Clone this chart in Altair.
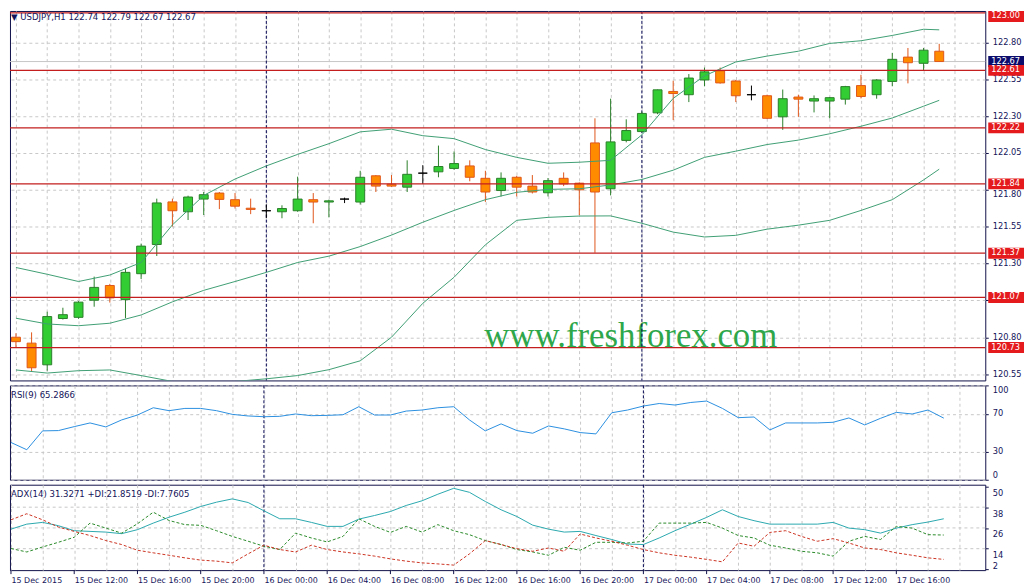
import altair as alt
import numpy as np
import pandas as pd

# ---------------- data ----------------
hours = list(range(60))  # hour index, 0 = 15 Dec 08:00
opens = [120.80, 120.76, 120.613, 120.927, 120.935, 121.051, 121.151, 121.055, 121.231, 121.429,
         121.718, 121.651, 121.737, 121.778, 121.733, 121.675, 121.658, 121.651, 121.658, 121.733,
         121.717, 121.737, 121.717, 121.895, 121.838, 121.818, 121.913, 121.922, 121.945, 121.962,
         121.878, 121.795, 121.885, 121.825, 121.78, 121.878, 121.845, 122.118, 121.807, 122.135,
         122.195, 122.322, 122.467, 122.445, 122.545, 122.607, 122.538, 122.445, 122.438, 122.295,
         122.429, 122.402, 122.402, 122.415, 122.507, 122.445, 122.535, 122.70, 122.658, 122.74]
highs = [120.827, 120.833, 120.973, 121.0, 121.045, 121.211, 121.162, 121.267, 121.435, 121.74,
         121.74, 121.76, 121.785, 121.785, 121.778, 121.74, 121.70, 121.695, 121.889, 121.778,
         121.733, 121.747, 121.929, 121.90, 121.90, 122.0, 121.967, 122.10, 122.06, 122.0,
         121.929, 121.918, 121.895, 121.90, 121.88, 121.918, 121.85, 122.285, 122.418, 122.278,
         122.33, 122.48, 122.54, 122.585, 122.629, 122.629, 122.545, 122.507, 122.445, 122.48,
         122.445, 122.44, 122.43, 122.505, 122.58, 122.55, 122.729, 122.762, 122.762, 122.79]
lows = [120.727, 120.567, 120.573, 120.92, 120.925, 121.007, 121.035, 120.929, 121.195, 121.351,
        121.551, 121.595, 121.629, 121.669, 121.673, 121.635, 121.607, 121.607, 121.651, 121.573,
        121.613, 121.71, 121.70, 121.785, 121.82, 121.785, 121.84, 121.885, 121.935, 121.858,
        121.718, 121.755, 121.755, 121.775, 121.755, 121.825, 121.629, 121.373, 121.762, 122.122,
        122.19, 122.313, 122.273, 122.395, 122.502, 122.52, 122.395, 122.407, 122.28, 122.207,
        122.295, 122.325, 122.285, 122.378, 122.42, 122.418, 122.502, 122.522, 122.607, 122.67]
closes = [120.77, 120.593, 120.94, 120.953, 121.038, 121.138, 121.067, 121.24, 121.418, 121.711,
          121.658, 121.751, 121.767, 121.735, 121.689, 121.667, 121.658, 121.673, 121.737, 121.717,
          121.725, 121.737, 121.885, 121.825, 121.825, 121.905, 121.913, 121.958, 121.978, 121.885,
          121.785, 121.878, 121.818, 121.785, 121.862, 121.84, 121.80, 121.785, 122.125, 122.202,
          122.318, 122.478, 122.453, 122.558, 122.60, 122.525, 122.438, 122.445, 122.285, 122.418,
          122.415, 122.418, 122.425, 122.50, 122.433, 122.545, 122.685, 122.662, 122.747, 122.67]

band_hours = list(range(0, 60, 2)) + [59]
bb_upper = [121.273, 121.227, 121.178, 121.222, 121.307, 121.562, 121.762, 121.873, 121.962, 122.04,
            122.113, 122.193, 122.211, 122.167, 122.147, 122.073, 122.02, 121.98, 121.987, 122.0,
            122.173, 122.42, 122.573, 122.667, 122.707, 122.74, 122.793, 122.811, 122.847, 122.889,
            122.885]
bb_middle = [120.929, 120.89, 120.878, 120.895, 120.951, 121.04, 121.118, 121.178, 121.24, 121.307,
             121.35, 121.415, 121.493, 121.58, 121.66, 121.733, 121.783, 121.803, 121.807, 121.833,
             121.87, 121.933, 122.02, 122.062, 122.107, 122.137, 122.18, 122.231, 122.287, 122.367,
             122.407]
bb_lower = [120.578, 120.557, 120.573, 120.578, 120.54, 120.50, 120.48, 120.50, 120.518, 120.54,
            120.58, 120.64, 120.80, 121.03, 121.207, 121.427, 121.593, 121.613, 121.622, 121.623,
            121.573, 121.513, 121.48, 121.491, 121.533, 121.56, 121.593, 121.66, 121.733, 121.867,
            121.94]

rsi = [39.5, 31.8, 51.8, 52.1, 56.3, 60.2, 56.0, 63.4, 68.6, 76.3,
       73.2, 75.6, 75.6, 73.2, 69.3, 67.6, 66.8, 67.2, 69.7, 67.9,
       68.2, 68.9, 77.4, 68.6, 68.6, 72.8, 73.9, 76.3, 77.4, 63.4,
       51.8, 59.2, 52.1, 49.3, 57.0, 53.9, 50.0, 48.6, 71.0, 73.9,
       78.1, 80.8, 79.2, 81.9, 83.4, 75.6, 65.8, 66.5, 52.8, 60.2,
       60.2, 60.2, 60.9, 65.5, 58.1, 65.1, 71.4, 69.7, 73.9, 65.3]
adx = [25.3, 28.2, 29.2, 27.3, 24.4, 24.0, 23.6, 22.7, 25.0, 28.8,
       32.2, 35.1, 38.4, 40.9, 42.8, 40.7, 35.9, 31.3, 31.3, 29.2,
       26.9, 26.9, 31.1, 33.2, 35.5, 39.0, 41.7, 45.5, 48.9, 46.6,
       41.3, 36.5, 32.6, 27.6, 25.3, 23.6, 24.0, 21.6, 19.3, 16.7,
       16.4, 20.2, 24.4, 28.2, 32.1, 36.5, 32.6, 30.2, 28.2, 28.2,
       28.2, 28.2, 29.2, 25.9, 25.0, 23.0, 25.9, 27.9, 29.4, 31.3]
plus_di = [14.1, 12.1, 15.0, 17.7, 20.6, 28.8, 25.9, 23.0, 28.4, 35.1,
           30.3, 27.9, 27.5, 24.4, 21.1, 18.3, 15.4, 13.5, 23.0, 20.2,
           17.9, 21.1, 31.3, 26.9, 23.4, 26.9, 23.6, 27.9, 24.4, 22.1,
           18.7, 16.4, 13.5, 12.1, 10.2, 14.8, 13.1, 17.7, 17.7, 17.3,
           18.3, 28.8, 28.8, 28.8, 29.2, 25.9, 21.6, 20.2, 16.0, 14.4,
           12.5, 11.6, 9.7, 18.3, 21.1, 19.3, 26.9, 25.9, 22.1, 21.9]
minus_di = [30.7, 34.2, 30.7, 26.5, 24.0, 21.6, 18.7, 16.4, 13.1, 11.6,
            10.2, 8.7, 7.4, 6.8, 5.8, 11.0, 16.0, 13.5, 12.1, 16.0,
            13.5, 12.1, 11.0, 9.7, 8.1, 6.8, 5.8, 5.2, 4.5, 11.0,
            18.7, 16.4, 14.0, 12.5, 14.4, 12.5, 22.5, 20.2, 18.3, 16.0,
            13.5, 11.6, 10.2, 9.1, 7.8, 6.4, 17.3, 15.4, 23.4, 24.4,
            21.1, 18.3, 19.8, 17.3, 14.4, 13.5, 11.6, 10.2, 8.7, 7.8]

level_prices = [123.00, 122.61, 122.22, 121.84, 121.37, 121.07, 120.73]
current_price = 122.67
day_separators = [16, 40]
price_ticks = [120.55, 120.80, 121.05, 121.30, 121.55, 121.80, 122.05, 122.30, 122.55, 122.80]
rsi_ticks = [0, 30, 70, 100]
adx_ticks = [2, 14, 26, 38, 50]
adx_grid_levels = [14, 26, 38]
grid_hours = list(range(0, 61, 2))
x_label_hours = list(range(0, 57, 4))
x_labels = ['15 Dec 2015', '15 Dec 12:00', '15 Dec 16:00', '15 Dec 20:00', '16 Dec 00:00',
            '16 Dec 04:00', '16 Dec 08:00', '16 Dec 12:00', '16 Dec 16:00', '16 Dec 20:00',
            '17 Dec 00:00', '17 Dec 04:00', '17 Dec 08:00', '17 Dec 12:00', '17 Dec 16:00']
main_title_text = '\u25BC USDJPY,H1  122.74 122.79 122.67 122.67'
rsi_title_text = 'RSI(9) 65.2866'
adx_title_text = 'ADX(14) 31.3271 +DI:21.8519 -DI:7.7605'
watermark_text = 'www.freshforex.com'

# ---------------- layout / style ----------------
W = 982
H_MAIN, H_RSI, H_ADX = 372, 95, 86
X_DOMAIN = [-0.0625, 61.625]
PRICE_DOMAIN = [120.507, 123.013]
RSI_DOMAIN = [0, 100]
ADX_DOMAIN = [1.6, 51.0]
PX_PER_UNIT = H_MAIN / (PRICE_DOMAIN[1] - PRICE_DOMAIN[0])
LABEL_MAX = PRICE_DOMAIN[1] - 5.5 / PX_PER_UNIT

FONT = 'DejaVu Sans'
NAVY = '#10104a'
TEXT_NAVY = '#14145a'
GRID = '#c8c8c8'
BAND = '#3f9e74'
LEVEL_RED = '#c41e1e'
BOX_RED = '#e41a1c'
BOX_NAVY = '#0c0c6c'
BOX = 'M-1,-0.3056L1,-0.3056L1,0.3056L-1,0.3056Z'
BOX_SIZE = 36 * 36

x_scale = alt.Scale(domain=X_DOMAIN, nice=False, zero=False)
p_scale = alt.Scale(domain=PRICE_DOMAIN, nice=False, zero=False)
r_scale = alt.Scale(domain=RSI_DOMAIN, nice=False, zero=False)
a_scale = alt.Scale(domain=ADX_DOMAIN, nice=False, zero=False)

fill_scale = alt.Scale(domain=['up', 'down', 'doji'], range=['#32cd32', '#ff8c00', '#000000'])
stroke_scale = alt.Scale(domain=['up', 'down', 'doji'], range=['#2a7f2a', '#e0571b', '#000000'])

# price labels fully under a level box are not shown (as in the original);
# labels only partly under a box are nudged down so they stay readable
hidden_test = ' || '.join(f'abs(datum.value - {p}) < 0.03' for p in level_prices)
near_test = ' || '.join(f'abs(datum.value - {p}) < 0.06' for p in level_prices)
price_label_expr = f"({hidden_test}) ? '' : format(datum.value, '.2f')"

# one axis object per channel and panel, used by every layer of that panel
grid_x_axis = alt.Axis(values=grid_hours, labels=False, ticks=False, domain=False, title=None, grid=True)
price_axis = alt.Axis(orient='right', values=price_ticks, labelExpr=price_label_expr, title=None,
                      grid=True, tickSize=3, labelPadding=4,
                      labelOffset=alt.condition(near_test, alt.value(5), alt.value(0)))
rsi_axis = alt.Axis(orient='right', values=rsi_ticks, format='d', title=None, grid=True,
                    tickSize=3, labelPadding=4, labelFlush=2)
label_array = '[' + ','.join(f"'{s}'" for s in x_labels) + ']'
n_lab = len(x_labels)
adx_x_axis = alt.Axis(
    values=grid_hours, grid=True, title=None, domain=False, ticks=False,
    labelExpr=f"(datum.value % 4 == 0 && datum.value / 4 < {n_lab}) ? {label_array}[datum.value / 4] : ''",
    labelAlign='left', labelFlush=False, labelOverlap=False, labelPadding=6, labelFontSize=8)
adx_y_axis = alt.Axis(orient='right', values=adx_ticks, format='d', title=None, grid=False,
                      tickSize=3, labelPadding=4, labelBaseline='middle',
                      labelOffset=alt.condition('datum.value == 2', alt.value(-3), alt.value(7)))


def XM(field='hour'):
    return alt.X(f'{field}:Q', scale=x_scale, axis=grid_x_axis)


def YM(field):
    return alt.Y(f'{field}:Q', scale=p_scale, axis=price_axis)


def XA(field='hour'):
    return alt.X(f'{field}:Q', scale=x_scale, axis=adx_x_axis)


def YA(field):
    return alt.Y(f'{field}:Q', scale=a_scale, axis=adx_y_axis)


# ---------------- tables ----------------
candles = pd.DataFrame({'hour': hours, 'open': opens, 'high': highs, 'low': lows, 'close': closes})
candles['kind'] = np.where(candles['close'] > candles['open'], 'up',
                           np.where(candles['close'] < candles['open'], 'down', 'doji'))
bands = pd.concat([
    pd.DataFrame({'hour': band_hours, 'value': vals, 'band': name})
    for name, vals in [('upper', bb_upper), ('middle', bb_middle), ('lower', bb_lower)]
])
levels_df = pd.DataFrame({'price': level_prices})
current_df = pd.DataFrame({'price': [current_price]})
seps_df = pd.DataFrame({'hour': day_separators})
ind = pd.DataFrame({'hour': hours, 'rsi': rsi, 'adx': adx, 'pdi': plus_di, 'mdi': minus_di})
xtick_df = pd.DataFrame({'hour': x_label_hours})
adx_grid_df = pd.DataFrame({'lvl': adx_grid_levels})


def text_layer(txt, x, y, **kw):
    return alt.Chart(pd.DataFrame({'t': [txt]})).mark_text(**kw).encode(
        text='t:N', x=alt.value(x), y=alt.value(y))


def separators(xenc):
    return alt.Chart(seps_df).mark_rule(color='#000050', strokeDash=[3, 2], strokeWidth=1).encode(x=xenc)


# ---------------- main price panel ----------------
current_line = alt.Chart(current_df).mark_rule(color='#c8c8c8', strokeWidth=1).encode(y=YM('price'))

watermark = text_layer(watermark_text, 625, 338, font='Liberation Serif', fontSize=35,
                       color='#2ea64a', align='center', baseline='alphabetic')

wicks = alt.Chart(candles).mark_rule(clip=True, strokeWidth=1).encode(
    x=XM(), y=YM('low'), y2='high:Q',
    stroke=alt.Stroke('kind:N', scale=stroke_scale, legend=None))

bodies = alt.Chart(candles).mark_bar(size=9, clip=True, strokeWidth=1).encode(
    x=XM(), y=YM('open'), y2='close:Q',
    fill=alt.Fill('kind:N', scale=fill_scale, legend=None),
    stroke=alt.Stroke('kind:N', scale=stroke_scale, legend=None))

band_lines = alt.Chart(bands).mark_line(clip=True, strokeWidth=1, color=BAND).encode(
    x=XM(), y=YM('value'), detail='band:N')

level_lines = alt.Chart(levels_df).mark_rule(color=LEVEL_RED, strokeWidth=1.3).encode(y=YM('price'))

main_title = text_layer(main_title_text, 1, 6, align='left', baseline='middle', font=FONT,
                        fontSize=8.6, color=TEXT_NAVY)


def price_box(df, color):
    return alt.Chart(df).transform_calculate(label_y=f'min(datum.price, {LABEL_MAX})').mark_point(
        shape=BOX, size=BOX_SIZE, filled=True, color=color, opacity=1, strokeWidth=0
    ).encode(x=alt.value(W + 21), y=YM('label_y'))


def price_text(df):
    return alt.Chart(df).transform_calculate(label_y=f'min(datum.price, {LABEL_MAX})').mark_text(
        align='left', baseline='middle', font=FONT, fontSize=8.3, color='white'
    ).encode(x=alt.value(W + 6), y=YM('label_y'), text=alt.Text('price:Q', format='.2f'))


main = alt.layer(
    current_line, watermark, separators(XM()), wicks, bodies, band_lines, level_lines, main_title,
    price_box(current_df, BOX_NAVY), price_text(current_df),
    price_box(levels_df, BOX_RED), price_text(levels_df),
).properties(width=W, height=H_MAIN)

# ---------------- RSI panel ----------------
rsi_line = alt.Chart(ind).mark_line(color='#2b8fe0', strokeWidth=1).encode(
    x=XM(), y=alt.Y('rsi:Q', scale=r_scale, axis=rsi_axis))
rsi_title = text_layer(rsi_title_text, 1, 10, align='left', baseline='middle', font=FONT,
                       fontSize=8.6, color=TEXT_NAVY)
rsi_panel = alt.layer(separators(XM()), rsi_line, rsi_title).properties(width=W, height=H_RSI)

# ---------------- ADX panel ----------------
adx_grid = alt.Chart(adx_grid_df).mark_rule(color=GRID, strokeDash=[3, 3], strokeWidth=1).encode(y=YA('lvl'))
adx_ticks_marks = alt.Chart(xtick_df).mark_rule(color=NAVY, strokeWidth=1).encode(
    x=XA(), y=alt.value(H_ADX), y2=alt.value(H_ADX + 4))
adx_line = alt.Chart(ind).mark_line(color='#2aa8ae', strokeWidth=1).encode(x=XA(), y=YA('adx'))
pdi_line = alt.Chart(ind).mark_line(color='#2a8a2a', strokeWidth=1, strokeDash=[3, 2]).encode(x=XA(), y=YA('pdi'))
mdi_line = alt.Chart(ind).mark_line(color='#cc3322', strokeWidth=1, strokeDash=[3, 2]).encode(x=XA(), y=YA('mdi'))
adx_title = text_layer(adx_title_text, 1, 9, align='left', baseline='middle', font=FONT,
                       fontSize=8.6, color=TEXT_NAVY)
adx_panel = alt.layer(adx_grid, separators(XA()), adx_ticks_marks, adx_line, pdi_line, mdi_line,
                      adx_title).properties(width=W, height=H_ADX)

chart = alt.vconcat(main, rsi_panel, adx_panel, spacing=3).properties(
    padding=0, background='white'
).configure_view(
    stroke=NAVY, strokeWidth=1
).configure_axis(
    labelFont=FONT, labelFontSize=8.3, labelColor=TEXT_NAVY, tickColor=NAVY,
    gridColor=GRID, gridDash=[3, 3], gridWidth=1, domain=False, zindex=0
)

chart.save('out.html', embed_options={'renderer': 'svg', 'actions': False})
